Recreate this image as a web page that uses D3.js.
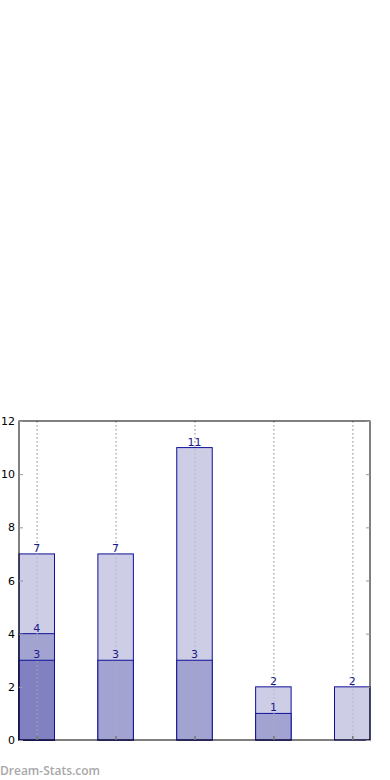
<!DOCTYPE html>
<html>
<head>
<meta charset="utf-8">
<script src="https://cdn.jsdelivr.net/npm/d3@7"></script>
<style>
  body { margin: 0; background: #fff; }
  svg { display: block; font-family: "DejaVu Sans", sans-serif; }
</style>
</head>
<body>
<div id="chart"></div>
<script>
// Data: overlapping bars per category (drawn from largest to smallest)
const categories = [0, 1, 2, 3, 4];
const seriesLight = [7, 7, 11, 2, 2];
const seriesMid = [4, 3, 3, 1, null];
const seriesDark = [3, null, null, null, null];
const yTicks = [0, 2, 4, 6, 8, 10, 12];

const series = [
  {values: seriesLight, fill: '#cdcde6'},
  {values: seriesMid, fill: '#a3a3d1'},
  {values: seriesDark, fill: '#8181c1'}
];

// Margin Convention
const margin = {top: 421, right: 20, bottom: 40, left: 19};
const width = 390 - margin.left - margin.right;
const height = 780 - margin.top - margin.bottom;
const barW = 0.45;

const xScale = d3.scaleLinear()
  .domain([-barW / 2, categories.length - 1 + barW / 2])
  .range([0, width]);

const yScale = d3.scaleLinear()
  .domain([0, 12])
  .range([height, 0]);

const svg = d3.select('#chart').append('svg')
  .attr('width', 390)
  .attr('height', 780);

const g = svg.append('g')
  .attr('transform', 'translate(' + margin.left + ',' + margin.top + ')');

// dotted vertical grid
g.selectAll('.grid')
  .data(categories)
  .enter().append('line')
  .attr('x1', d => xScale(d) + 0.5)
  .attr('x2', d => xScale(d) + 0.5)
  .attr('y1', 0)
  .attr('y2', height)
  .attr('stroke', '#c8c8c8')
  .attr('stroke-width', 1.5)
  .attr('stroke-dasharray', '1.5,2.5');

// bars
series.forEach(function(s) {
  const data = categories.filter(i => s.values[i] != null).map(i => ({i: i, v: s.values[i]}));
  g.selectAll(null)
    .data(data)
    .enter().append('rect')
    .attr('x', d => xScale(d.i - barW / 2))
    .attr('y', d => yScale(d.v))
    .attr('width', d => xScale(barW) - xScale(0))
    .attr('height', d => height - yScale(d.v))
    .attr('fill', s.fill)
    .attr('stroke', '#10109a')
    .attr('stroke-width', 1);
});

// grid lines over bars (faint)
g.selectAll('.grid2')
  .data(categories)
  .enter().append('line')
  .attr('x1', d => xScale(d) + 0.5)
  .attr('x2', d => xScale(d) + 0.5)
  .attr('y1', 0)
  .attr('y2', height)
  .attr('stroke', '#b0b0b0')
  .attr('stroke-opacity', 0.6)
  .attr('stroke-width', 1.5)
  .attr('stroke-dasharray', '1.5,2.5');

// value labels
series.forEach(function(s) {
  const data = categories.filter(i => s.values[i] != null).map(i => ({i: i, v: s.values[i]}));
  g.selectAll(null)
    .data(data)
    .enter().append('text')
    .attr('x', d => xScale(d.i))
    .attr('y', d => yScale(d.v) - 2)
    .attr('text-anchor', 'middle')
    .attr('font-size', 11)
    .attr('fill', '#1a1a8c')
    .text(d => d.v);
});

// frame
g.append('rect')
  .attr('x', 0).attr('y', 0)
  .attr('width', width).attr('height', height)
  .attr('fill', 'none')
  .attr('stroke', '#000')
  .attr('stroke-width', 1);

// y axis
const yAxis = g.append('g')
  .call(d3.axisLeft(yScale).tickValues(yTicks).tickSize(4).tickPadding(2));
yAxis.select('.domain').remove();
yAxis.selectAll('line').attr('stroke', '#999').attr('transform', 'translate(4,0)');
yAxis.selectAll('text').attr('font-size', 11).attr('fill', '#000')
  .attr('font-family', '"DejaVu Sans", sans-serif').attr('x', -4);

// right ticks
g.append('g')
  .attr('transform', 'translate(' + width + ',0)')
  .call(d3.axisLeft(yScale).tickValues(yTicks).tickSize(4).tickFormat(''))
  .call(a => a.select('.domain').remove())
  .selectAll('line').attr('stroke', '#999');

// bottom ticks
g.append('g')
  .attr('transform', 'translate(0,' + height + ')')
  .call(d3.axisTop(xScale).tickValues(categories).tickSize(4).tickFormat(''))
  .call(a => a.select('.domain').remove())
  .selectAll('line').attr('stroke', '#777').attr('stroke-width', 1.5);

// watermark
svg.append('text')
  .attr('x', 0)
  .attr('y', 775)
  .attr('font-size', 12)
  .attr('font-weight', 600)
  .attr('font-family', '"Open Sans", sans-serif')
  .attr('fill', '#a8a8a8')
  .text('Dream-Stats.com');
</script>
</body>
</html>
